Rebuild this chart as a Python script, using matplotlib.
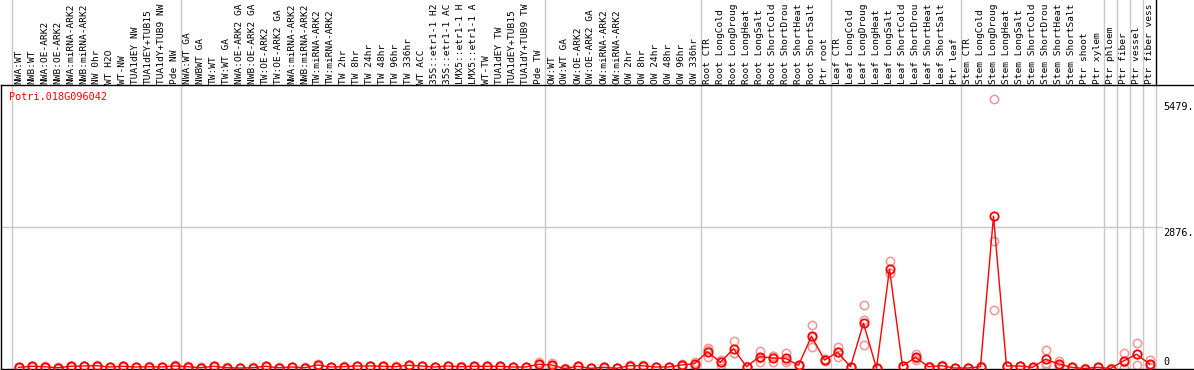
import numpy as np
import matplotlib
matplotlib.use("Agg")
import matplotlib.pyplot as plt
import matplotlib.transforms as mtransforms

# sample labels (as truncated in the original chart)
labels = [
    "NWA:WT", "NWB:WT", "NWA:OE-ARK2", "NWB:OE-ARK2", "NWA:miRNA-ARK2", "NWB:miRNA-ARK2",
    "NW 0hr", "WT H2O", "WT-NW", "TUA1dEY NW", "TUA1dEY+TUB15", "TUA1dY+TUB9 NW", "Pde NW",
    "NWA:WT GA", "NWBWT GA", "TW:WT", "TW:WT GA", "NWA:OE-ARK2 GA", "NWB:OE-ARK2 GA",
    "TW:OE-ARK2", "TW:OE-ARK2 GA", "NWA:miRNA-ARK2", "NWB:miRNA-ARK2", "TW:miRNA-ARK2",
    "TW:miRNA-ARK2", "TW 2hr", "TW 8hr", "TW 24hr", "TW 48hr", "TW 96hr", "TW 336hr",
    "WT ACC", "35S::etr1-1 H2", "35S::etr1-1 AC", "LMX5::etr1-1 H", "LMX5::etr1-1 A",
    "WT-TW", "TUA1dEY TW", "TUA1dEY+TUB15", "TUA1dY+TUB9 TW", "Pde TW",
    "OW:WT", "OW:WT GA", "OW:OE-ARK2", "OW:OE-ARK2 GA", "OW:miRNA-ARK2", "OW:miRNA-ARK2",
    "OW 2hr", "OW 8hr", "OW 24hr", "OW 48hr", "OW 96hr", "OW 336hr",
    "Root CTR", "Root LongCold", "Root LongDroug", "Root LongHeat", "Root LongSalt",
    "Root ShortCold", "Root ShortDrou", "Root ShortHeat", "Root ShortSalt", "Ptr root",
    "Leaf CTR", "Leaf LongCold", "Leaf LongDroug", "Leaf LongHeat", "Leaf LongSalt",
    "Leaf ShortCold", "Leaf ShortDrou", "Leaf ShortHeat", "Leaf ShortSalt", "Ptr leaf",
    "Stem CTR", "Stem LongCold", "Stem LongDroug", "Stem LongHeat", "Stem LongSalt",
    "Stem ShortCold", "Stem ShortDrou", "Stem ShortHeat", "Stem ShortSalt", "Ptr shoot",
    "Ptr xylem", "Ptr phloem", "Ptr fiber", "Ptr vessel", "Ptr fiber vess",
]

# number of samples in each separated block
group_sizes = [13, 28, 12, 10, 10, 11, 1, 1, 1, 1]

# mean expression
mean_vals = [
    24, 45, 37, 16, 45, 51, 57, 31, 45, 31, 37, 31, 51,
    37, 16, 45, 16, 10, 16, 45, 16, 31, 16, 71, 31, 37, 51, 51, 45, 37,
    65, 51, 31, 51, 37, 45, 45, 45, 31, 31, 86,
    71, 0, 45, 4, 24, 4, 57, 57, 31, 31, 71, 98,
    343, 125, 404, 37, 241, 214, 208, 65, 657, 173,
    330, 37, 922, 4, 2024, 51, 228, 37, 57, 10,
    10, 37, 3100, 51, 51, 24, 188, 92, 24, 0, 24,
    0, 153, 290, 92,
]

# replicate values
rep_a = [
    30, 52, 44, 22, 55, 60, 70, 36, 52, 37, 44, 37, 62,
    44, 22, 52, 22, 14, 22, 52, 22, 37, 22, 82, 37, 44, 58, 58, 52, 44,
    75, 58, 37, 58, 44, 52, 52, 52, 37, 37, 126,
    112, 2, 52, 6, 30, 6, 64, 64, 37, 37, 82, 139,
    380, 173, 567, 45, 363, 255, 322, 72, 887, 190,
    432, 40, 1289, 5, 2193, 55, 296, 42, 64, 14,
    14, 44, 5479, 58, 58, 30, 377, 153, 30, 2, 30,
    2, 322, 513, 173,
]
rep_b = [
    18, 38, 30, 10, 36, 42, 45, 26, 38, 25, 30, 25, 40,
    30, 10, 38, 10, 6, 10, 38, 10, 25, 10, 60, 25, 30, 44, 44, 38, 30,
    55, 44, 25, 44, 30, 38, 38, 38, 25, 25, 62,
    46, 0, 38, 2, 18, 2, 50, 50, 25, 25, 60, 75,
    228, 71, 322, 30, 139, 139, 139, 58, 445, 160,
    228, 35, 479, 3, 1937, 48, 174, 32, 50, 6,
    6, 30, 1193, 44, 44, 18, 71, 53, 18, 0, 18,
    0, 10, 65, 37,
]
rep_c = [
    24, 45, 37, 16, 44, 51, 56, 31, 45, 31, 37, 31, 51,
    37, 16, 45, 16, 10, 16, 45, 16, 31, 16, 71, 31, 37, 51, 51, 45, 37,
    65, 51, 31, 51, 37, 45, 45, 45, 31, 31, 70,
    55, 0, 45, 4, 24, 4, 57, 57, 31, 31, 71, 80,
    420, 131, 323, 36, 221, 248, 163, 65, 639, 170,
    330, 36, 989, 4, 1942, 50, 214, 37, 57, 10,
    10, 37, 2601, 51, 51, 24, 116, 70, 24, 0, 24,
    0, 127, 292, 66,
]

gene_id = "Potri.018G096042"
tick_vals = [5479, 2876, 0]
tick_text = ["5479.", "2876.", "0"]

W, H = 1194, 370
fig = plt.figure(figsize=(W / 100, H / 100), dpi=100)
# plot area: x 1..1194 px, y 85..369 px (from top)
ax = fig.add_axes([1 / W, 1 / H, (W - 1) / W, 284 / H])

x = np.arange(len(labels))
ax.set_xlim((1 - 18.5) / 13, (W - 18.5) / 13)
ax.set_ylim(-10, 5769)

red = "#ff0000"
pink = "#f09696"
gray = "#c8c8c8"

# block separators (run up through the label strip)
bounds = np.concatenate([[0], np.cumsum(group_sizes)]) - 0.5
for b in bounds:
    ax.axvline(b, ymin=0, ymax=369 / 284, color=gray, lw=1, clip_on=False, zorder=1)
ax.axvline(bounds[-1], ymin=1, ymax=369 / 284, color="black", lw=1, clip_on=False, zorder=1)

ax.axhline(tick_vals[1], xmin=0, xmax=(1162 - 1) / (W - 1), color=gray, lw=1, zorder=1)

for rep in (rep_a, rep_b, rep_c):
    ax.plot(x, rep, ls="none", marker="o", ms=6, mfc="none", mec=pink, mew=1.1, zorder=2)
ax.plot(x, mean_vals, color=red, lw=1, marker="o", ms=6, mfc="none", mec=red, mew=1.3, zorder=3)

# rotated sample labels above the plot
tr = mtransforms.blended_transform_factory(ax.transData, ax.transAxes)
for i, lab in enumerate(labels):
    ax.text(i, 1 + 1.5 / 284, lab, rotation=90, ha="center", va="bottom", transform=tr,
            family="DejaVu Sans Mono", fontsize=6.8, color="black", clip_on=False)

# value labels on the right
for v, t, py in zip(tick_vals, tick_text, [107, 233, 362]):
    ax.text((1163 - 1) / (W - 1), (369 - py) / 284, t, transform=ax.transAxes,
            ha="left", va="center", family="DejaVu Sans Mono", fontsize=7.3)

ax.text((9 - 1) / (W - 1), (369 - 97) / 284, gene_id, transform=ax.transAxes, color=red,
        ha="left", va="center", family="DejaVu Sans Mono", fontsize=7.3)

ax.set_xticks([])
ax.set_yticks([])
ax.spines["right"].set_visible(False)
for s in ("left", "top", "bottom"):
    ax.spines[s].set_linewidth(1)
    ax.spines[s].set_color("black")

fig.savefig("out.png", dpi=100)
